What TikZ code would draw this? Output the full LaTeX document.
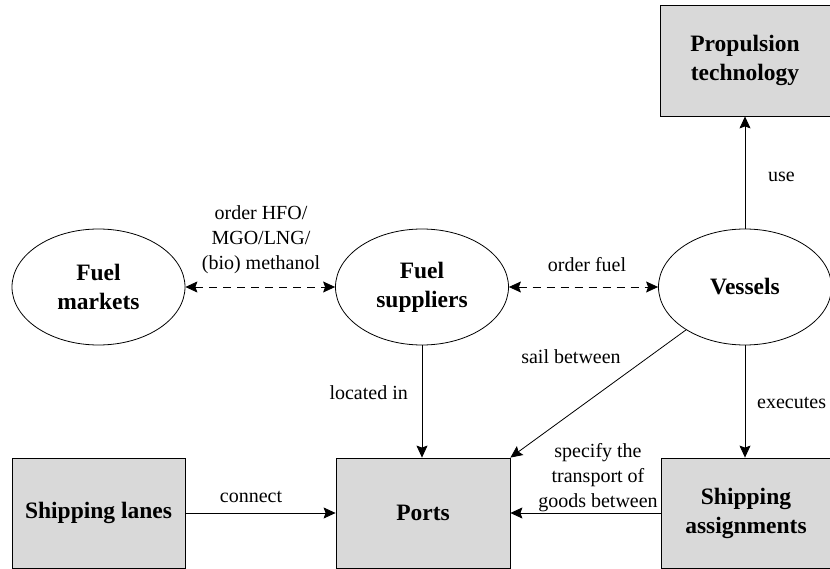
\documentclass[tikz,border=0pt]{standalone}
\usepackage{fontspec}
\setmainfont{Liberation Serif}
\usetikzlibrary{arrows.meta,shapes.geometric}
\definecolor{boxgray}{HTML}{D9D9D9}
\tikzset{
  actor/.style={ellipse,draw=black,line width=0.8pt,minimum width=173pt,minimum height=116pt,
    inner sep=0pt,align=center,font=\fontsize{23.5}{29}\selectfont\bfseries},
  entity/.style={rectangle,draw=black,fill=boxgray,line width=0.8pt,inner sep=0pt,
    align=center,font=\fontsize{23.5}{29}\selectfont\bfseries},
  rel/.style={line width=0.8pt,-{Stealth[length=12pt,width=11pt,inset=2pt]}},
  mutual/.style={line width=0.8pt,dash pattern=on 8pt off 6pt,
    {Stealth[length=12pt,width=11pt,inset=2pt]}-{Stealth[length=12pt,width=11pt,inset=2pt]}},
  lbl/.style={font=\fontsize{20}{25}\selectfont,align=center,inner sep=0pt}
}
\begin{document}
\begin{tikzpicture}[x=1pt,y=-1pt]
  \useasboundingbox (0,0) rectangle (830,569);
  % actors
  \node[actor] (markets) at (98.5,287) {Fuel\\markets};
  \node[actor] (suppliers) at (422,287) {Fuel\\suppliers};
  \node[actor] (vessels) at (745,287) {Vessels};
  % entities
  \node[entity,minimum width=170pt,minimum height=111pt] (propulsion) at (745,60.5) {Propulsion\\technology};
  \node[entity,minimum width=173pt,minimum height=110pt] (lanes) at (98.5,513) {Shipping lanes};
  \node[entity,minimum width=174pt,minimum height=110pt] (ports) at (423,513) {Ports};
  \node[entity,minimum width=170pt,minimum height=110pt] (assign) at (746,513) {Shipping\\assignments};
  % relations
  \draw[mutual] (markets) -- (suppliers);
  \node[lbl] (l1) at (261,240) {order HFO/\\MGO/LNG/\\(bio) methanol};
  \draw[mutual] (suppliers) -- (vessels);
  \node[lbl] (l2) at (587,265) {order fuel};
  \draw[rel] (vessels) -- (propulsion);
  \node[lbl,anchor=west] (l3) at (768,177) {use};
  \draw[rel] (suppliers) -- (ports.north -| suppliers);
  \node[lbl,anchor=east] (l4) at (408,393) {located in};
  \draw[rel] (vessels) -- (ports.north east);
  \node[lbl] (l5) at (571,357) {sail between};
  \draw[rel] (vessels.south) -- (assign.north -| vessels.south);
  \node[lbl,anchor=west] (l6) at (757,403) {executes};
  \draw[rel] (lanes) -- (ports);
  \node[lbl] (l7) at (251,497) {connect};
  \draw[rel] (assign) -- (ports);
  \node[lbl] (l8) at (598,478) {specify the\\transport of\\goods between};
\end{tikzpicture}
\end{document}
